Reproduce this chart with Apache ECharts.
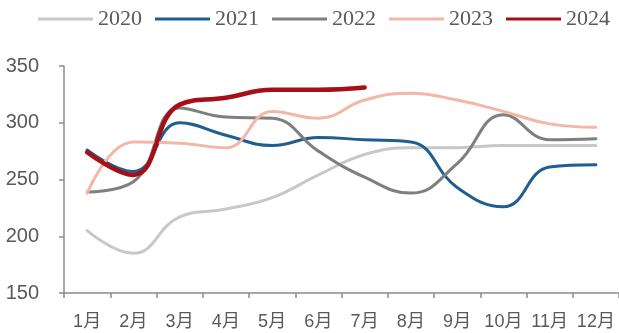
<!DOCTYPE html>
<html><head><meta charset="utf-8">
<script src="https://cdn.jsdelivr.net/npm/echarts@6/dist/echarts.min.js"></script>
<style>html,body{margin:0;padding:0;background:#fff}#c{width:619px;height:333px}</style>
</head><body><div id="c"></div>
<script>
const categories = ['1月','2月','3月','4月','5月','6月','7月','8月','9月','10月','11月','12月'];
const yTicks = [150, 200, 250, 300, 350];
const s2020 = [205, 185, 217, 224, 234, 254, 272, 278, 278, 280, 280, 280];
const s2021 = [276, 257, 300, 289, 280, 287, 285, 283, 243, 226, 261, 263];
const s2022 = [239, 248, 313, 305, 304, 275, 252, 238, 264, 307, 285, 286];
const s2023 = [238, 283, 282, 278, 310, 304, 320, 326, 320, 310, 299, 296];
const s2024 = [274, 254, 316, 322, 329, 329, 331];

const names = ['2020','2021','2022','2023','2024'];
const colors = ['#c8c8c8','#1f5e8e','#7f7f7f','#f4b6a6','#a50f15'];
const widths = [3, 3, 3, 3, 4.5];
const datas = [s2020, s2021, s2022, s2023, s2024];

const chart = echarts.init(document.getElementById('c'), null, {renderer:'canvas'});
chart.setOption({
  animation: false,
  backgroundColor: '#fff',
  legend: {
    left: 38, top: 8, padding: 0, width: 581,
    itemWidth: 55, itemHeight: 3, itemGap: 13,
    textStyle: {fontFamily: 'Liberation Serif', fontSize: 22, color: '#595959'},
    data: names.map(n => ({name: n, icon: 'rect'}))
  },
  grid: {left: 64, top: 66, width: 558, height: 227, containLabel: false},
  xAxis: {
    type: 'category', data: categories, boundaryGap: true,
    axisLine: {lineStyle: {color: '#8c8c8c', width: 1.5}},
    axisTick: {show: true, length: 5, lineStyle: {color: '#8c8c8c', width: 1.5}},
    axisLabel: {fontFamily: 'Liberation Sans, Noto Sans CJK SC', fontSize: 18, color: '#595959', margin: 20, interval: 0}
  },
  yAxis: {
    type: 'value', min: yTicks[0], max: yTicks[yTicks.length-1], interval: 50,
    axisLine: {show: true, lineStyle: {color: '#8c8c8c', width: 1.5}},
    axisTick: {show: true, length: 5, lineStyle: {color: '#8c8c8c', width: 1.5}},
    splitLine: {show: false},
    axisLabel: {fontFamily: 'Liberation Sans', fontSize: 20, color: '#595959', margin: 25}
  },
  series: names.map((n, i) => ({
    name: n, type: 'line', data: datas[i], smooth: 0.45, symbol: 'none',
    itemStyle: {color: colors[i]},
    lineStyle: {color: colors[i], width: widths[i], cap: 'round'},
    z: i + 1
  }))
});
</script></body></html>
